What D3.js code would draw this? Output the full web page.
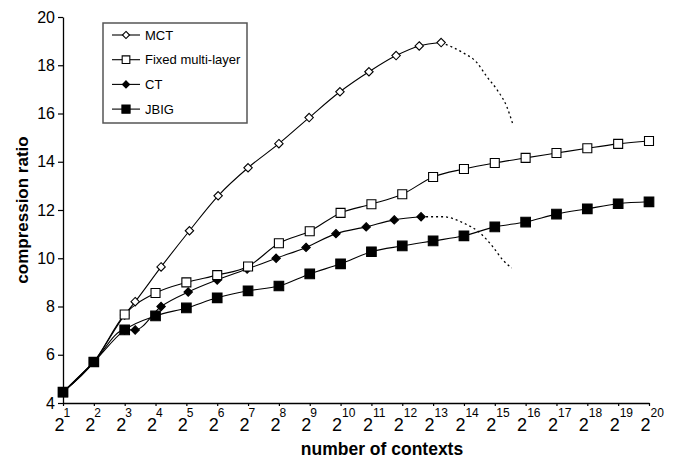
<!DOCTYPE html>
<html>
<head>
<meta charset="utf-8">
<script src="https://cdn.jsdelivr.net/npm/d3@7"></script>
<style>
  body { margin: 0; background: #fff; }
  text { font-family: "Liberation Sans", Arial, sans-serif; fill: #000; }
</style>
</head>
<body>
<script>
var
  width  = 673,
  height = 458,
  margin = {left: 63, right: 24, top: 17, bottom: 55};

// x values are log2(number of contexts)
var mctX   = [1, 2, 3, 3.34, 4.18, 5.1, 6.03, 7.0, 8.0, 8.98, 9.98, 10.92, 11.8, 12.55, 13.26],
    mctY   = [4.45, 5.7, 7.65, 8.2, 9.64, 11.14, 12.59, 13.75, 14.75, 15.83, 16.9, 17.73, 18.4, 18.8, 18.94],
    fixedX = [1, 2, 3, 4, 5, 6, 7, 8, 9, 10, 11, 12, 13, 14, 15, 16, 17, 18, 19, 20],
    fixedY = [4.45, 5.7, 7.67, 8.56, 9.0, 9.3, 9.66, 10.62, 11.12, 11.88, 12.24, 12.65, 13.37, 13.7, 13.95, 14.16, 14.36, 14.56, 14.74, 14.86],
    ctX    = [1, 2, 3, 3.34, 4.18, 5.06, 6.0, 6.97, 7.91, 8.88, 9.85, 10.83, 11.74, 12.61],
    ctY    = [4.45, 5.7, 7.03, 7.03, 8.0, 8.6, 9.1, 9.55, 10.0, 10.45, 11.02, 11.3, 11.59, 11.72],
    jbigX  = [1, 2, 3, 4, 5, 6, 7, 8, 9, 10, 11, 12, 13, 14, 15, 16, 17, 18, 19, 20],
    jbigY  = [4.45, 5.7, 7.03, 7.61, 7.94, 8.36, 8.65, 8.85, 9.35, 9.77, 10.27, 10.51, 10.72, 10.93, 11.3, 11.5, 11.83, 12.05, 12.26, 12.34];

// dotted extrapolations
var mctExtX = [13.26, 13.97, 14.42, 14.74, 15.07, 15.39, 15.59],
    mctExtY = [18.94, 18.52, 18.11, 17.53, 16.99, 16.28, 15.54],
    ctExtX  = [12.61, 13.32, 13.97, 14.52, 14.94, 15.26, 15.55],
    ctExtY  = [11.72, 11.72, 11.47, 11.05, 10.47, 9.93, 9.6];

var yTicks = [4, 6, 8, 10, 12, 14, 16, 18, 20],
    xTicks = d3.range(1, 21);

var names = ['MCT', 'Fixed multi-layer', 'CT', 'JBIG'];

var x = d3.scaleLinear().domain([1, 20]).range([margin.left, width - margin.right]),
    y = d3.scaleLinear().domain([4, 20]).range([height - margin.bottom, margin.top]);

var svg = d3.select('body').append('svg')
  .attr('width', width)
  .attr('height', height);

function zip(xs, ys) {
  return xs.map(function (v, i) { return [v, ys[i]]; });
}

var line = d3.line()
  .x(function (d) { return x(d[0]); })
  .y(function (d) { return y(d[1]); })
  .curve(d3.curveMonotoneX);

// axes
var yAxis = svg.append('g')
  .attr('transform', 'translate(' + margin.left + ',0)')
  .call(d3.axisLeft(y).tickValues(yTicks).tickSize(5).tickSizeOuter(0).tickPadding(3));
yAxis.selectAll('text').style('font-size', '16px').style('font-family', '"Liberation Sans", Arial, sans-serif');
yAxis.select('.domain').attr('stroke-width', 1.3);
yAxis.selectAll('.tick line').attr('stroke-width', 1.2);

var xAxis = svg.append('g')
  .attr('transform', 'translate(0,' + y(4) + ')')
  .call(d3.axisBottom(x).tickValues(xTicks).tickSize(3).tickSizeOuter(0).tickFormat(''));
xAxis.select('.domain').attr('stroke-width', 1.3);
xAxis.selectAll('.tick line').attr('stroke-width', 1.2);

// tick labels 2^n
var xl = svg.append('g').selectAll('g').data(xTicks).enter().append('g');
xl.append('text')
  .attr('x', function (d) { return x(d) + 1.5; })
  .attr('y', 431)
  .attr('text-anchor', 'end')
  .style('font-size', '18px')
  .text('2');
xl.append('text')
  .attr('x', function (d) { return x(d) + (d < 10 ? 0.5 : 1.5); })
  .attr('y', 417)
  .style('font-size', '12px')
  .text(function (d) { return d; });

svg.append('text')
  .attr('x', 382)
  .attr('y', 455)
  .attr('text-anchor', 'middle')
  .style('font-size', '17.5px')
  .style('font-weight', 'bold')
  .text('number of contexts');

svg.append('text')
  .attr('transform', 'translate(28,' + ((y(4) + y(20)) / 2) + ') rotate(-90)')
  .attr('text-anchor', 'middle')
  .style('font-size', '17px')
  .style('font-weight', 'bold')
  .text('compression ratio');

// lines
var series = [
  {name: names[0], pts: zip(mctX, mctY), marker: 'diamond', fill: '#fff', size: 4.2},
  {name: names[2], pts: zip(ctX, ctY), marker: 'diamond', fill: '#000', size: 4.2},
  {name: names[1], pts: zip(fixedX, fixedY), marker: 'square', fill: '#fff', size: 4.5},
  {name: names[3], pts: zip(jbigX, jbigY), marker: 'square', fill: '#000', size: 4.8}
];

svg.append('path').attr('d', line(zip(mctExtX, mctExtY)))
  .attr('fill', 'none').attr('stroke', '#000').attr('stroke-width', 1.3).attr('stroke-dasharray', '2,3');
svg.append('path').attr('d', line(zip(ctExtX, ctExtY)))
  .attr('fill', 'none').attr('stroke', '#000').attr('stroke-width', 1.3).attr('stroke-dasharray', '2,3');

series.forEach(function (s) {
  svg.append('path').attr('d', line(s.pts))
    .attr('fill', 'none').attr('stroke', '#000').attr('stroke-width', 1.1);
});

function markerPath(type, r) {
  if (type === 'diamond') return 'M0,' + (-r) + 'L' + r + ',0L0,' + r + 'L' + (-r) + ',0Z';
  return 'M' + (-r) + ',' + (-r) + 'H' + r + 'V' + r + 'H' + (-r) + 'Z';
}

series.forEach(function (s) {
  svg.append('g').selectAll('path').data(s.pts).enter().append('path')
    .attr('transform', function (d) { return 'translate(' + x(d[0]) + ',' + y(d[1]) + ')'; })
    .attr('d', markerPath(s.marker, s.size))
    .attr('fill', s.fill)
    .attr('stroke', '#000')
    .attr('stroke-width', 1.1);
});

// legend
var legend = svg.append('g').attr('transform', 'translate(103,23)');
legend.append('rect')
  .attr('width', 144).attr('height', 100)
  .attr('fill', '#fff').attr('stroke', '#555').attr('stroke-width', 1.5);

var legendItems = [series[0], series[2], series[1], series[3]];
var li = legend.selectAll('g.item').data(legendItems).enter().append('g')
  .attr('class', 'item')
  .attr('transform', function (d, i) { return 'translate(0,' + (12 + i * 24.7) + ')'; });
li.append('line').attr('x1', 9).attr('x2', 37).attr('stroke', '#000').attr('stroke-width', 1.1);
li.append('path')
  .attr('transform', 'translate(23,0)')
  .attr('d', function (d) { return markerPath(d.marker, d.size * 0.85); })
  .attr('fill', function (d) { return d.fill; })
  .attr('stroke', '#000').attr('stroke-width', 1.1);
li.append('text')
  .attr('x', 42).attr('dy', '0.35em')
  .style('font-size', '13px')
  .text(function (d) { return d.name; });
</script>
</body>
</html>
